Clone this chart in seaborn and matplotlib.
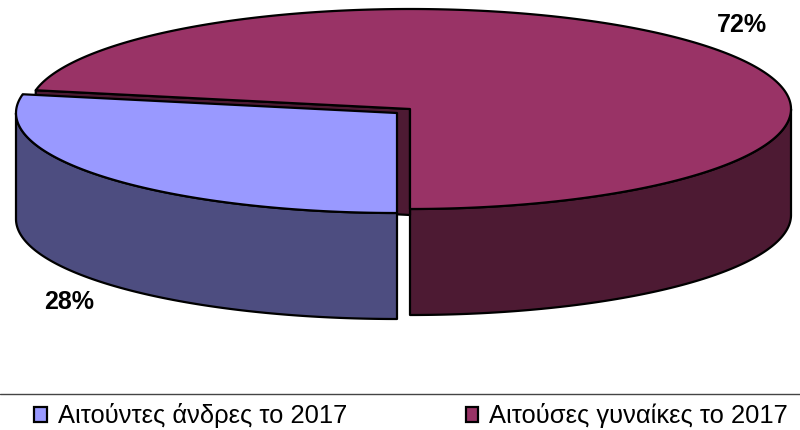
import numpy as np
import pandas as pd
import matplotlib
matplotlib.use('Agg')
import matplotlib.pyplot as plt
from matplotlib.patches import Patch
import seaborn as sns

labels = ['Αιτούντες άνδρες το 2017', 'Αιτούσες γυναίκες το 2017']
shares = [28, 72]
pct_labels = ['28%', '72%']

top_colors = ['#9999FF', '#993366']
side_colors = ['#4D4D80', '#4D1A33']

sns.set_theme(style='white')
plt.rcParams['font.family'] = ['Liberation Sans', 'DejaVu Sans']

df = pd.DataFrame({'label': labels, 'share': shares})
df['sweep'] = df['share'] / df['share'].sum() * 2 * np.pi

# pie geometry in pixels, y pointing down
cx, cy = 410, 109
rx, ry = 381, 100
depth = 106
shift_x, shift_y = -13, 4


def rim(start, end, x0, y0):
    # angles run clockwise from 6 o'clock
    t = np.linspace(start, end, 300)
    return x0 - rx * np.sin(t), y0 + ry * np.cos(t)


fig = plt.figure(figsize=(8, 4.3), dpi=100)
ax = fig.add_axes([0, 0, 1, 1])
ax.set_xlim(0, 800)
ax.set_ylim(430, 0)
ax.axis('off')

edge = dict(edgecolor='black', linewidth=1.6, joinstyle='round')

male_end = df['sweep'][0]

# big slice: side wall first, then cut face, then top
wall_x, wall_y = rim(1.5 * np.pi, 2 * np.pi, cx, cy)
ax.fill(np.r_[wall_x, wall_x[::-1]], np.r_[wall_y, wall_y[::-1] + depth],
        facecolor=side_colors[1], **edge)
xs, ys = rim(male_end, 2 * np.pi, cx, cy)
ax.fill(np.r_[xs[0], cx, cx, xs[0]], np.r_[ys[0], cy, cy + depth, ys[0] + depth],
        facecolor=side_colors[1], **edge)
ax.fill(np.r_[cx, xs], np.r_[cy, ys], facecolor=top_colors[1], **edge)

# small slice, pulled out
x0, y0 = cx + shift_x, cy + shift_y
wall_x, wall_y = rim(0, 0.5 * np.pi, x0, y0)
ax.fill(np.r_[wall_x, wall_x[::-1]], np.r_[wall_y, wall_y[::-1] + depth],
        facecolor=side_colors[0], **edge)
xs, ys = rim(0, male_end, x0, y0)
ax.fill(np.r_[x0, xs], np.r_[y0, ys], facecolor=top_colors[0], **edge)

ax.text(69, 302, pct_labels[0], fontsize=18, fontweight='bold', ha='center', va='center', color='black')
ax.text(742, 25, pct_labels[1], fontsize=18, fontweight='bold', ha='center', va='center', color='black')

# legend strip
ax.plot([0, 800], [394, 394], color='#444444', linewidth=1)
handles = [Patch(facecolor=c, edgecolor='black', linewidth=1.6) for c in top_colors]
ax.legend(handles, df['label'], ncols=2, frameon=False, fontsize=18.4,
          loc='center left', bbox_to_anchor=(34 / 800, 1 - 416 / 430),
          borderaxespad=0, borderpad=0, handlelength=0.5, handleheight=0.55,
          handletextpad=0.42, columnspacing=4.65, labelcolor='black')

fig.savefig('out.png', dpi=100)
